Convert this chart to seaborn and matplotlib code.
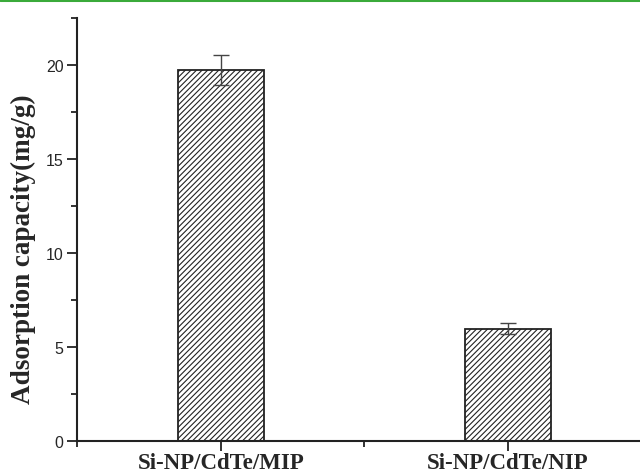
import matplotlib
matplotlib.use("Agg")
import matplotlib.pyplot as plt
import seaborn as sns
import pandas as pd
from matplotlib.ticker import MultipleLocator
from matplotlib.lines import Line2D

sns.set_style("ticks")
plt.rcParams["hatch.linewidth"] = 0.8

samples = ["Si-NP/CdTe/MIP", "Si-NP/CdTe/NIP"]
capacity = [19.75, 5.95]
errors = [0.8, 0.3]

df = pd.DataFrame({"sample": samples, "capacity": capacity})

fig = plt.figure(figsize=(6.4, 4.77), dpi=100)
ax = fig.add_axes([0.121, 0.0744, 0.879, 0.886])

sns.barplot(data=df, x="sample", y="capacity", color="white", width=0.3,
            edgecolor="#222222", linewidth=1.3, errorbar=None, ax=ax)
for p in ax.patches:
    p.set_hatch("//////")

ax.errorbar(range(len(samples)), capacity, yerr=errors, fmt="none",
            ecolor="#444444", elinewidth=1.0, capsize=6, capthick=1.0)

ax.set_xlim(-0.5, 1.46)
ax.set_ylim(0, 22.5)
ax.yaxis.set_major_locator(MultipleLocator(5))
ax.yaxis.set_minor_locator(MultipleLocator(2.5))
ax.xaxis.set_minor_locator(MultipleLocator(0.5))

for s in ["top", "right"]:
    ax.spines[s].set_visible(False)
for s in ["left", "bottom"]:
    ax.spines[s].set_linewidth(1.5)
    ax.spines[s].set_color("#222222")

ax.tick_params(axis="both", which="major", direction="out", length=7, width=1.3, color="#222222")
ax.tick_params(axis="both", which="minor", direction="out", length=4, width=1.3, color="#222222")
ax.tick_params(axis="y", labelsize=11.5, pad=3)
ax.tick_params(axis="x", pad=1)

ax.set_xlabel("")
ax.set_ylabel("Adsorption capacity(mg/g)", fontsize=19.5, fontweight="bold",
              family="Liberation Serif")
ax.yaxis.set_label_coords(-0.073, 0.455)
for lbl in ax.get_yticklabels():
    lbl.set_family("Liberation Sans")
for lbl in ax.get_xticklabels():
    lbl.set_family("Liberation Serif")
    lbl.set_fontweight("bold")
    lbl.set_fontsize(16.5)

fig.add_artist(Line2D([0, 1], [0.9975, 0.9975], color="#3aaa3a", linewidth=2.2,
                      transform=fig.transFigure))

fig.savefig("out.png", dpi=100)
